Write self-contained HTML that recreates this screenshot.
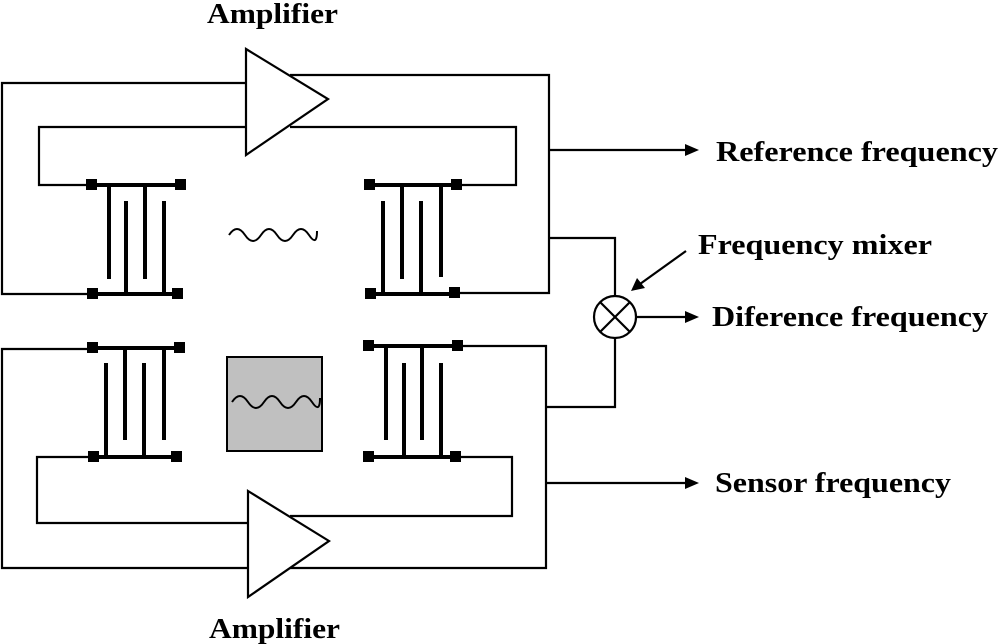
<!DOCTYPE html>
<html><head><style>html,body{margin:0;padding:0;background:#fff}svg{display:block}</style></head>
<body>
<svg width="1000" height="644" viewBox="0 0 1000 644" xmlns="http://www.w3.org/2000/svg">
<g fill="none" stroke="#000" stroke-width="2.2">
<polyline points="246,83 2,83 2,294 92,294"/>
<polyline points="290,75 549,75 549,293 455,293"/>
<polyline points="246,127 39,127 39,185 92,185"/>
<polyline points="290,127 516,127 516,185 457,185"/>
<polygon points="246,49 328,99 246,155" fill="#fff"/>
<polyline points="92,349 2,349 2,568 248,568"/>
<polyline points="458,346 546,346 546,568 290,568"/>
<polyline points="94,457 37,457 37,523 248,523"/>
<polyline points="290,516 512,516 512,457 456,457"/>
<polygon points="248,491 329,541 248,597" fill="#fff"/>
<polyline points="549,238 615,238 615,296"/>
<polyline points="546,407 615,407 615,338"/>
<circle cx="615" cy="317" r="21" fill="#fff"/>
<line x1="600" y1="302" x2="630" y2="332"/>
<line x1="630" y1="302" x2="600" y2="332"/>
<line x1="549" y1="150" x2="688" y2="150"/>
<line x1="636" y1="317" x2="688" y2="317"/>
<line x1="546" y1="483" x2="688" y2="483"/>
<line x1="686" y1="251" x2="640" y2="284"/>
</g>
<g fill="#000">
<polygon points="699,150 685,144 685,156"/>
<polygon points="699,317 685,311 685,323"/>
<polygon points="699,483 685,477 685,489"/>
<polygon points="631,291 637,278 645,288"/>
</g>
<g stroke="#000" stroke-width="4" fill="none">
<line x1="92" y1="185" x2="181" y2="185"/><line x1="109" y1="185" x2="109" y2="279"/><line x1="145" y1="185" x2="145" y2="279"/>
<line x1="92" y1="294" x2="178" y2="294"/><line x1="126" y1="294" x2="126" y2="201"/><line x1="164" y1="294" x2="164" y2="201"/>
<line x1="370" y1="185" x2="457" y2="185"/><line x1="402" y1="185" x2="402" y2="279"/><line x1="441" y1="185" x2="441" y2="277"/>
<line x1="371" y1="294" x2="455" y2="294"/><line x1="383" y1="294" x2="383" y2="201"/><line x1="421" y1="294" x2="421" y2="201"/>
<line x1="92" y1="348" x2="180" y2="348"/><line x1="125" y1="348" x2="125" y2="440"/><line x1="164" y1="348" x2="164" y2="440"/>
<line x1="94" y1="457" x2="177" y2="457"/><line x1="106" y1="457" x2="106" y2="363"/><line x1="144" y1="457" x2="144" y2="363"/>
<line x1="369" y1="346" x2="458" y2="346"/><line x1="386" y1="346" x2="386" y2="440"/><line x1="422" y1="346" x2="422" y2="440"/>
<line x1="369" y1="457" x2="456" y2="457"/><line x1="404" y1="457" x2="404" y2="363"/><line x1="441" y1="457" x2="441" y2="363"/>
</g>
<g fill="#000">
<rect x="86" y="179" width="11" height="11"/><rect x="175" y="179" width="11" height="11"/>
<rect x="87" y="288" width="11" height="11"/><rect x="172" y="288" width="11" height="11"/>
<rect x="364" y="179" width="11" height="11"/><rect x="451" y="179" width="11" height="11"/>
<rect x="365" y="288" width="11" height="11"/><rect x="449" y="287" width="11" height="11"/>
<rect x="87" y="342" width="11" height="11"/><rect x="174" y="342" width="11" height="11"/>
<rect x="88" y="451" width="11" height="11"/><rect x="171" y="451" width="11" height="11"/>
<rect x="363" y="340" width="11" height="11"/><rect x="452" y="340" width="11" height="11"/>
<rect x="363" y="451" width="11" height="11"/><rect x="450" y="451" width="11" height="11"/>
</g>
<rect x="227" y="357" width="95" height="94" fill="#c0c0c0" stroke="#000" stroke-width="2"/>
<path d="M229,235 q8,-12 16,0 t16,0 t16,0 t16,0 t16,0 t8,-4" fill="none" stroke="#000" stroke-width="2"/>
<path d="M232,402 q8,-12 16,0 t16,0 t16,0 t16,0 t16,0 t8,-4" fill="none" stroke="#000" stroke-width="2"/>
<g font-family="Liberation Serif, serif" font-weight="bold" font-size="29" fill="#000">
<text x="207" y="23" textLength="131" lengthAdjust="spacingAndGlyphs">Amplifier</text>
<text x="209" y="638" textLength="131" lengthAdjust="spacingAndGlyphs">Amplifier</text>
<text x="716" y="161" textLength="282" lengthAdjust="spacingAndGlyphs">Reference frequency</text>
<text x="698" y="254" textLength="234" lengthAdjust="spacingAndGlyphs">Frequency mixer</text>
<text x="712" y="326" textLength="276" lengthAdjust="spacingAndGlyphs">Diference frequency</text>
<text x="715" y="492" textLength="236" lengthAdjust="spacingAndGlyphs">Sensor frequency</text>
</g>
</svg>
</body></html>
